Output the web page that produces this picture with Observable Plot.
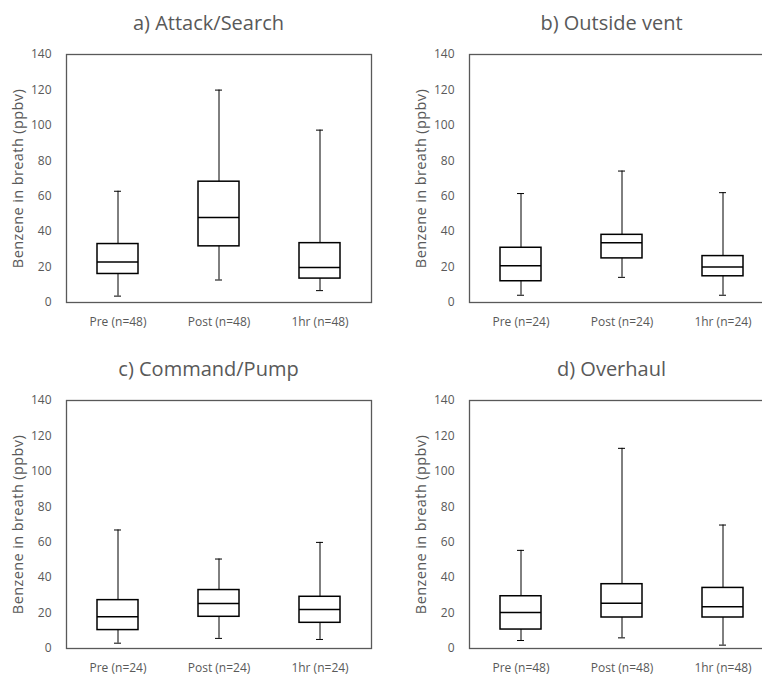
<!DOCTYPE html>
<html><head><meta charset="utf-8">
<script src="https://cdn.jsdelivr.net/npm/d3@7"></script>
<script src="https://cdn.jsdelivr.net/npm/@observablehq/plot@0.6"></script>
<style>
html,body{margin:0;padding:0}
body{width:762px;height:675px;overflow:hidden;background:#fff;font-family:"Open Sans",sans-serif;position:relative}
.panel{position:absolute;width:381px;height:338px}
.title{position:absolute;left:18px;top:10px;width:381px;text-align:center;font-size:20px;line-height:26px;color:#595959;white-space:nowrap}
.panel svg{position:absolute;left:0;top:41px}
.ylab{letter-spacing:0.4px}
</style></head><body>
<script>
const panelTitles = ["a) Attack/Search", "b) Outside vent", "c) Command/Pump", "d) Overhaul"];
const groups = ["Pre", "Post", "1hr"];
const sampleSizes = [48, 24, 24, 48];
const whiskerMin = [[3.6, 12.7, 6.7], [4.1, 14.2, 4.1], [3.0, 5.7, 5.1], [4.5, 6.0, 1.9]];
const quartile1  = [[16.1, 31.7, 13.5], [12.0, 24.9, 14.8], [10.4, 17.9, 14.5], [10.7, 17.5, 17.5]];
const medians    = [[22.9, 48.0, 19.7], [20.8, 33.7, 20.1], [17.9, 25.4, 22.0], [20.3, 25.6, 23.5]];
const quartile3  = [[33.0, 68.2, 33.5], [30.9, 38.2, 26.2], [27.3, 33.0, 29.2], [29.5, 36.3, 34.2]];
const whiskerMax = [[62.8, 119.9, 97.3], [61.5, 74.2, 62.0], [66.9, 50.5, 59.9], [55.4, 113.0, 69.7]];
const yTicks = [0, 20, 40, 60, 80, 100, 120, 140];
const yLabel = "Benzene in breath (ppbv)";

const panelPos = [[0, 0], [403, 0], [0, 346], [403, 346]];

function makePanel(i) {
  const rows = groups.map((g, j) => ({
    label: `${g} (n=${sampleSizes[i]})`,
    min: whiskerMin[i][j], q1: quartile1[i][j], med: medians[i][j],
    q3: quartile3[i][j], max: whiskerMax[i][j]
  }));
  const labels = rows.map(d => d.label);
  return Plot.plot({
    width: 381, height: 297,
    marginTop: 13, marginBottom: 36, marginLeft: 66, marginRight: 10,
    style: {fontFamily: "Open Sans", fontSize: "12px", color: "#595959", background: "transparent", overflow: "visible"},
    x: {domain: labels, padding: 0, label: null, tickSize: 0, tickPadding: 15},
    y: {domain: [0, 140], ticks: yTicks, label: null, tickSize: 0, tickPadding: 15},
    marks: [
      Plot.frame({stroke: "#595959", strokeWidth: 1.3}),
      Plot.ruleX(rows, {x: "label", y1: "min", y2: "max", stroke: "#000", strokeWidth: 1}),
      Plot.tickY(rows, {x: "label", y: "min", insetLeft: 47, insetRight: 47, stroke: "#000", strokeWidth: 1}),
      Plot.tickY(rows, {x: "label", y: "max", insetLeft: 47, insetRight: 47, stroke: "#000", strokeWidth: 1}),
      Plot.barY(rows, {x: "label", y1: "q1", y2: "q3", fill: "white", stroke: "#000", strokeWidth: 1.5, insetLeft: 30, insetRight: 30}),
      Plot.tickY(rows, {x: "label", y: "med", insetLeft: 30, insetRight: 30, stroke: "#000", strokeWidth: 1.5}),
      Plot.text([yLabel], {text: d => d, frameAnchor: "left", textAnchor: "middle", rotate: -90, dx: -48, fontSize: 14.5, fill: "#595959", className: "ylab"})
    ]
  });
}

panelTitles.forEach((t, i) => {
  const div = document.createElement("div");
  div.className = "panel";
  div.style.left = panelPos[i][0] + "px";
  div.style.top = panelPos[i][1] + "px";
  const title = document.createElement("div");
  title.className = "title";
  title.textContent = t;
  div.appendChild(title);
  div.appendChild(makePanel(i));
  document.body.appendChild(div);
});
</script>
</body></html>
